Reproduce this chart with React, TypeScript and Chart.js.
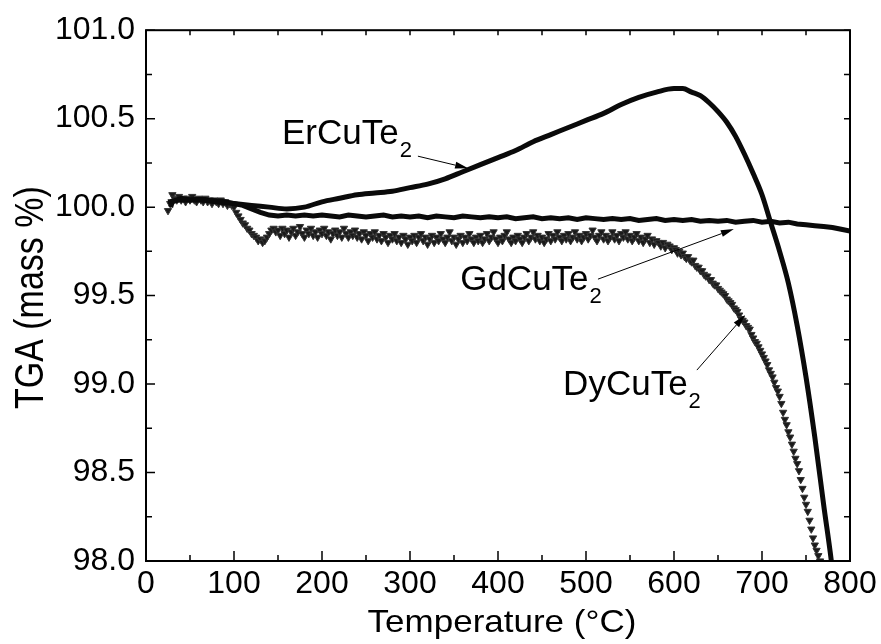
import React, { useEffect, useRef } from 'react';
import { Chart, registerables } from 'chart.js';

Chart.register(...registerables);

// ---------- data ----------
const erTemp = [25, 40, 60, 80, 100, 120, 140, 160, 180, 200, 220, 240, 260, 280, 300, 320, 340, 360, 380, 400, 420, 440, 460, 480, 500, 520, 540, 560, 580, 600, 610, 620, 630, 640, 650, 660, 670, 680, 690, 700, 710, 720, 730, 740, 750, 760, 770, 780, 785];
const erMass = [100.03, 100.04, 100.04, 100.03, 100.02, 100.01, 100.0, 99.99, 100.0, 100.03, 100.05, 100.07, 100.08, 100.09, 100.11, 100.13, 100.16, 100.2, 100.24, 100.28, 100.32, 100.37, 100.41, 100.45, 100.49, 100.53, 100.58, 100.62, 100.65, 100.67, 100.67, 100.65, 100.63, 100.59, 100.54, 100.48, 100.4, 100.3, 100.19, 100.07, 99.91, 99.75, 99.57, 99.33, 99.04, 98.7, 98.32, 97.95, 97.7];

const gdTemp = [28, 30, 40, 50, 60, 70, 80, 90, 100, 110, 120, 130, 140, 150, 160, 170, 180, 190, 200, 210, 220, 230, 240, 250, 260, 270, 280, 290, 300, 310, 320, 330, 340, 350, 360, 370, 380, 390, 400, 410, 420, 430, 440, 450, 460, 470, 480, 490, 500, 510, 520, 530, 540, 550, 560, 570, 580, 590, 600, 610, 620, 630, 640, 650, 660, 670, 680, 690, 700, 710, 720, 730, 740, 750, 760, 770, 780, 790, 800];
const gdMass = [100.0, 100.03, 100.05, 100.04, 100.045, 100.04, 100.035, 100.03, 100.02, 100.01, 99.99, 99.97, 99.955, 99.95, 99.955, 99.95, 99.955, 99.95, 99.955, 99.95, 99.945, 99.955, 99.95, 99.945, 99.95, 99.955, 99.945, 99.95, 99.945, 99.95, 99.94, 99.95, 99.945, 99.94, 99.95, 99.945, 99.94, 99.945, 99.94, 99.945, 99.935, 99.94, 99.945, 99.935, 99.94, 99.935, 99.94, 99.93, 99.94, 99.935, 99.93, 99.935, 99.93, 99.935, 99.925, 99.93, 99.935, 99.925, 99.93, 99.925, 99.93, 99.92, 99.925, 99.92, 99.925, 99.915, 99.92, 99.925, 99.915, 99.92, 99.91, 99.915, 99.905, 99.9, 99.895, 99.89, 99.885, 99.875, 99.865];

const dyTemp = [
  25, 27.5, 30, 32.5, 35, 37.5, 40, 42.5, 45, 47.5, 50, 52.5, 55, 57.5, 60, 62.5, 65, 67.5, 70, 72.5, 75, 77.5, 80, 82.5, 85, 87.5, 90, 92.5, 95, 97.5, 100,
  102.5, 105, 107.5, 110, 112.5, 115, 117.5, 120, 122.5, 125, 127.5, 130, 132.5, 135, 137.5, 140, 142.5, 145, 147.5, 150,
  152.5, 155, 157.5, 160, 162.5, 165, 167.5, 170, 172.5, 175, 177.5, 180, 182.5, 185, 187.5, 190, 192.5, 195, 197.5, 200,
  202.5, 205, 207.5, 210, 212.5, 215, 217.5, 220, 222.5, 225, 227.5, 230, 232.5, 235, 237.5, 240, 242.5, 245, 247.5, 250,
  252.5, 255, 257.5, 260, 262.5, 265, 267.5, 270, 272.5, 275, 277.5, 280, 282.5, 285, 287.5, 290, 292.5, 295, 297.5, 300,
  302.5, 305, 307.5, 310, 312.5, 315, 317.5, 320, 322.5, 325, 327.5, 330, 332.5, 335, 337.5, 340, 342.5, 345, 347.5, 350,
  352.5, 355, 357.5, 360, 362.5, 365, 367.5, 370, 372.5, 375, 377.5, 380, 382.5, 385, 387.5, 390, 392.5, 395, 397.5, 400,
  402.5, 405, 407.5, 410, 412.5, 415, 417.5, 420, 422.5, 425, 427.5, 430, 432.5, 435, 437.5, 440, 442.5, 445, 447.5, 450,
  452.5, 455, 457.5, 460, 462.5, 465, 467.5, 470, 472.5, 475, 477.5, 480, 482.5, 485, 487.5, 490, 492.5, 495, 497.5, 500,
  502.5, 505, 507.5, 510, 512.5, 515, 517.5, 520, 522.5, 525, 527.5, 530, 532.5, 535, 537.5, 540, 542.5, 545, 547.5, 550,
  552.5, 555, 557.5, 560, 562.5, 565, 567.5, 570, 572.5, 575, 577.5, 580, 582.5, 585, 587.5, 590, 592.5, 595, 597.5, 600,
  602, 604, 606, 608, 610, 612, 614, 616, 618, 620, 622, 624, 626, 628, 630, 632, 634, 636, 638, 640,
  642, 644, 646, 648, 650, 652, 654, 656, 658, 660, 662, 664, 666, 668, 670, 672, 674, 676, 678, 680,
  682, 684, 686, 688, 690, 692, 694, 696, 698, 700, 702, 704, 706, 708, 710, 712, 714, 716, 718, 720,
  722, 724, 726, 728, 730, 732, 734, 736, 738, 740, 742, 744, 746, 748, 750, 752, 754, 756, 758, 760,
  762, 764, 766, 768, 770,
];
const dyMass = [
  99.98, 100.02, 100.07, 100.05, 100.04, 100.06, 100.04, 100.05, 100.03, 100.05, 100.04, 100.06, 100.04, 100.03, 100.05, 100.04, 100.03, 100.05, 100.03, 100.04, 100.02, 100.04, 100.03, 100.02, 100.04, 100.02, 100.03, 100.01, 100.02, 100.01, 100.0,
  99.97, 99.95, 99.93, 99.91, 99.9, 99.88, 99.87, 99.85, 99.84, 99.83, 99.81, 99.82, 99.8, 99.81, 99.83, 99.85, 99.87, 99.88, 99.86, 99.87,
  99.84, 99.88, 99.85, 99.87, 99.83, 99.86, 99.88, 99.84, 99.86, 99.89, 99.85, 99.83, 99.87, 99.85, 99.88, 99.84, 99.86, 99.83, 99.87, 99.85,
  99.88, 99.84, 99.86, 99.82, 99.85, 99.87, 99.84, 99.86, 99.83, 99.88, 99.85, 99.83, 99.86, 99.84, 99.87, 99.83, 99.85, 99.82, 99.86, 99.84,
  99.81, 99.85, 99.83, 99.86, 99.82, 99.84, 99.81, 99.85, 99.83, 99.8, 99.84, 99.82, 99.85, 99.81, 99.83, 99.8, 99.84, 99.82, 99.79, 99.83,
  99.81, 99.84, 99.8, 99.83, 99.85, 99.81, 99.83, 99.79, 99.82, 99.84, 99.8, 99.83, 99.81, 99.85, 99.82, 99.8, 99.83, 99.86, 99.81, 99.83,
  99.79, 99.82, 99.84, 99.8, 99.83, 99.81, 99.85, 99.82, 99.8, 99.83, 99.81, 99.84, 99.8, 99.82, 99.85, 99.81, 99.83, 99.86, 99.82, 99.8,
  99.83, 99.81, 99.84, 99.86, 99.82, 99.8, 99.83, 99.81, 99.84, 99.82, 99.8, 99.83, 99.85, 99.81, 99.83, 99.86, 99.82, 99.84, 99.81, 99.83,
  99.8, 99.82, 99.85, 99.81, 99.84, 99.82, 99.86, 99.83, 99.81, 99.84, 99.82, 99.85, 99.81, 99.83, 99.86, 99.82, 99.84, 99.81, 99.83, 99.85,
  99.82, 99.84, 99.87, 99.83, 99.81, 99.84, 99.86, 99.82, 99.84, 99.81, 99.83, 99.86, 99.82, 99.84, 99.81, 99.85, 99.83, 99.86, 99.82, 99.84,
  99.81, 99.83, 99.85, 99.81, 99.83, 99.8, 99.82, 99.84, 99.8, 99.82, 99.79, 99.81, 99.8, 99.78, 99.8, 99.77, 99.79, 99.78, 99.76, 99.77,
  99.76, 99.74, 99.75, 99.73, 99.74, 99.72, 99.71, 99.72, 99.7, 99.69, 99.7, 99.67, 99.66, 99.66, 99.64, 99.64, 99.62, 99.61, 99.61, 99.59,
  99.59, 99.57, 99.56, 99.56, 99.54, 99.53, 99.52, 99.51, 99.5, 99.48, 99.47, 99.46, 99.45, 99.43, 99.42, 99.41, 99.39, 99.37, 99.36, 99.35,
  99.33, 99.32, 99.31, 99.28, 99.26, 99.24, 99.23, 99.21, 99.19, 99.17, 99.15, 99.13, 99.11, 99.08, 99.06, 99.04, 99.01, 98.98, 98.96, 98.93,
  98.89, 98.84, 98.8, 98.77, 98.73, 98.7, 98.66, 98.62, 98.58, 98.55, 98.51, 98.46, 98.41, 98.36, 98.32, 98.28, 98.23, 98.18, 98.13, 98.09,
  98.06, 98.03, 98.0, 97.96, 97.92,
];

const xTickStep = 100;
const yTickStep = 0.5;
const xTitle = 'Temperature (°C)';
const yTitle = 'TGA (mass %)';

// annotation labels: text anchor and arrow (data coordinates)
const labelNames = ['ErCuTe', 'GdCuTe', 'DyCuTe'];
const labelSubs = ['2', '2', '2'];
const labelAt = [[154.5, 100.356], [357, 99.531], [474, 98.938]];
const arrowFrom = [[309, 100.288], [513.6, 99.593], [626, 99.079]];
const arrowTo = [[366, 100.22], [668, 99.876], [680.7, 99.39]];

const FONT = '"Liberation Sans", Arial, Helvetica, sans-serif';

const framePlugin = {
  id: 'framePlugin',
  afterDraw(chart: any) {
    const { ctx, chartArea } = chart;
    const xs = chart.scales.x;
    const ys = chart.scales.y;
    const { left, right, top, bottom } = chartArea;
    ctx.save();
    ctx.strokeStyle = '#000';
    ctx.fillStyle = '#000';
    ctx.lineWidth = 2;
    ctx.strokeRect(left, top, right - left, bottom - top);
    ctx.lineWidth = 1.5;
    ctx.beginPath();
    for (let v = xs.min; v <= xs.max + 1e-6; v += xTickStep / 2) {
      const major = Math.abs(v / xTickStep - Math.round(v / xTickStep)) < 1e-6;
      const p = xs.getPixelForValue(v);
      const len = major ? 10 : 6;
      ctx.moveTo(p, bottom);
      ctx.lineTo(p, bottom - len);
      ctx.moveTo(p, top);
      ctx.lineTo(p, top + 5);
    }
    for (let v = ys.min; v <= ys.max + 1e-6; v += yTickStep / 2) {
      const major = Math.abs(v / yTickStep - Math.round(v / yTickStep)) < 1e-6;
      const p = ys.getPixelForValue(v);
      const len = major ? 9 : 6;
      ctx.moveTo(left, p);
      ctx.lineTo(left + len, p);
      ctx.moveTo(right, p);
      ctx.lineTo(right - 6, p);
    }
    ctx.stroke();

    // annotations
    for (let i = 0; i < labelNames.length; i++) {
      const tx = xs.getPixelForValue(labelAt[i][0]);
      const ty = ys.getPixelForValue(labelAt[i][1]);
      ctx.font = `35px ${FONT}`;
      ctx.textAlign = 'left';
      ctx.textBaseline = 'alphabetic';
      ctx.fillText(labelNames[i], tx, ty);
      const w = ctx.measureText(labelNames[i]).width;
      ctx.font = `22px ${FONT}`;
      ctx.fillText(labelSubs[i], tx + w + 1, ty + 13);

      const x1 = xs.getPixelForValue(arrowFrom[i][0]);
      const y1 = ys.getPixelForValue(arrowFrom[i][1]);
      const x2 = xs.getPixelForValue(arrowTo[i][0]);
      const y2 = ys.getPixelForValue(arrowTo[i][1]);
      const ang = Math.atan2(y2 - y1, x2 - x1);
      const hl = 13, hw = 3.5;
      ctx.lineWidth = 1;
      ctx.beginPath();
      ctx.moveTo(x1, y1);
      ctx.lineTo(x2 - hl * Math.cos(ang), y2 - hl * Math.sin(ang));
      ctx.stroke();
      ctx.beginPath();
      ctx.moveTo(x2, y2);
      ctx.lineTo(x2 - hl * Math.cos(ang) + hw * Math.sin(ang), y2 - hl * Math.sin(ang) - hw * Math.cos(ang));
      ctx.lineTo(x2 - hl * Math.cos(ang) - hw * Math.sin(ang), y2 - hl * Math.sin(ang) + hw * Math.cos(ang));
      ctx.closePath();
      ctx.fill();
    }

    // axis titles
    ctx.font = `35px ${FONT}`;
    ctx.textAlign = 'center';
    ctx.textBaseline = 'alphabetic';
    ctx.save();
    ctx.translate((left + right) / 2 + 4, 632);
    ctx.scale(1, 0.92);
    ctx.fillText(xTitle, 0, 0);
    ctx.restore();

    ctx.save();
    ctx.font = `34px ${FONT}`;
    ctx.translate(43, (top + bottom) / 2 + 2);
    ctx.rotate(-Math.PI / 2);
    ctx.scale(1, 1.2);
    ctx.fillText(yTitle, 0, 0);
    ctx.restore();
    ctx.restore();
  },
};

export default function App() {
  const canvasRef = useRef<HTMLCanvasElement | null>(null);

  useEffect(() => {
    const canvas = canvasRef.current;
    if (!canvas) return;
    const chart = new Chart(canvas, {
      type: 'line',
      data: {
        datasets: [
          {
            label: 'ErCuTe2',
            data: erTemp.map((t, i) => ({ x: t, y: erMass[i] })),
            borderColor: '#0a0a0a',
            borderWidth: 5,
            pointRadius: 0,
            fill: false,
            cubicInterpolationMode: 'monotone',
          },
          {
            label: 'GdCuTe2',
            data: gdTemp.map((t, i) => ({ x: t, y: gdMass[i] })),
            borderColor: '#0a0a0a',
            borderWidth: 5,
            pointRadius: 0,
            fill: false,
            tension: 0,
          },
          {
            label: 'DyCuTe2',
            data: dyTemp.map((t, i) => ({ x: t, y: dyMass[i] })),
            showLine: false,
            pointStyle: 'triangle',
            rotation: 180,
            pointRadius: 4.2,
            pointBackgroundColor: '#1a1a1a',
            pointBorderColor: '#333',
            pointBorderWidth: 1,
            fill: false,
          },
        ],
      },
      options: {
        animation: false,
        responsive: true,
        maintainAspectRatio: false,
        layout: { padding: { left: 0, top: 30, right: 31, bottom: 0 } },
        plugins: {
          legend: { display: false },
          tooltip: { enabled: false },
        },
        scales: {
          x: {
            type: 'linear',
            min: 0,
            max: 800,
            grid: { display: false, drawTicks: false },
            border: { display: false },
            ticks: {
              stepSize: xTickStep,
              color: '#000',
              padding: 4,
              maxRotation: 0,
              font: { family: FONT, size: 32 },
            },
            afterFit: (s: any) => {
              s.height = 83;
            },
          },
          y: {
            type: 'linear',
            min: 98,
            max: 101,
            grid: { display: false, drawTicks: false },
            border: { display: false },
            ticks: {
              stepSize: yTickStep,
              color: '#000',
              padding: 11,
              font: { family: FONT, size: 32 },
              callback: (v: any) => Number(v).toFixed(1),
            },
            afterFit: (s: any) => {
              s.width = 146;
            },
          },
        },
      },
      plugins: [framePlugin],
    });
    return () => chart.destroy();
  }, []);

  return (
    <div style={{ position: 'fixed', left: 0, top: 0, width: 881, height: 644, background: '#fff' }}>
      <canvas ref={canvasRef} />
    </div>
  );
}
